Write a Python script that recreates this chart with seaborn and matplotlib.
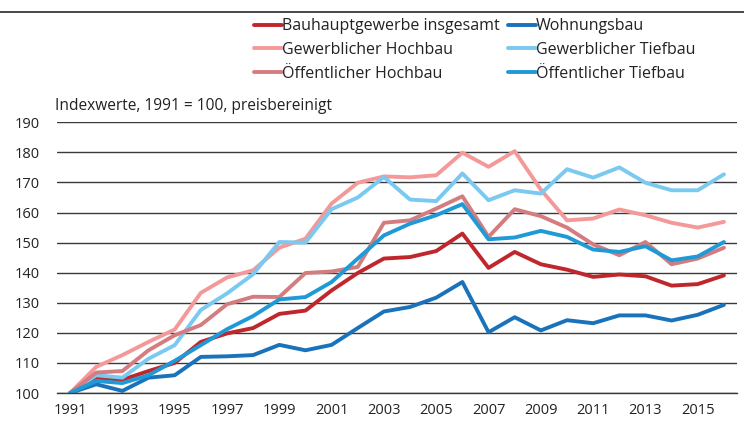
import numpy as np
import pandas as pd
import seaborn as sns
import matplotlib.pyplot as plt
from matplotlib.lines import Line2D

# --- data (index 1991 = 100) ---
years = list(range(1991, 2017))

bauhaupt = [100, 105.1, 104.4, 107.3, 110.0, 117.0, 119.8, 121.6, 126.3, 127.4,
            134.1, 139.9, 144.7, 145.2, 147.2, 153.0, 141.6, 146.9, 142.8, 141.0,
            138.6, 139.4, 138.8, 135.7, 136.2, 139.1]
wohnungsbau = [100, 102.9, 100.7, 105.1, 105.9, 112.0, 112.2, 112.6, 116.0, 114.2,
               116.0, 121.6, 127.1, 128.6, 131.7, 136.9, 120.2, 125.2, 120.8, 124.2,
               123.2, 125.8, 125.8, 124.1, 126.0, 129.3]
gew_hochbau = [100, 108.7, 112.6, 117.0, 121.1, 133.3, 138.4, 140.8, 148.3, 151.3,
               163.0, 169.9, 172.0, 171.7, 172.4, 179.9, 175.2, 180.4, 167.6, 157.4,
               158.0, 161.0, 159.1, 156.6, 155.0, 156.9]
gew_tiefbau = [100, 105.9, 105.1, 111.4, 115.9, 127.6, 133.1, 139.5, 150.2, 150.0,
               161.1, 165.0, 171.8, 164.3, 163.8, 173.0, 164.1, 167.4, 166.3, 174.4,
               171.6, 175.0, 169.9, 167.4, 167.4, 172.7]
oef_hochbau = [100, 106.8, 107.3, 114.2, 119.2, 122.6, 129.5, 132.0, 131.9, 139.9,
               140.4, 141.9, 156.6, 157.4, 161.3, 165.4, 151.9, 161.1, 158.8, 155.0,
               149.4, 145.8, 150.2, 142.8, 144.7, 148.3]
oef_tiefbau = [100, 104.0, 103.3, 105.9, 110.7, 115.9, 121.2, 125.6, 131.1, 131.9,
               136.9, 144.7, 152.4, 156.3, 159.1, 162.8, 151.1, 151.7, 153.9, 151.9,
               147.7, 146.9, 148.8, 144.1, 145.4, 150.2]

names = ["Bauhauptgewerbe insgesamt", "Wohnungsbau", "Gewerblicher Hochbau",
         "Gewerblicher Tiefbau", "Öffentlicher Hochbau", "Öffentlicher Tiefbau"]
colors = ["#c0272d", "#1a72bb", "#f4999a", "#79c9f0", "#d47c7f", "#1f9ad6"]
series = [bauhaupt, wohnungsbau, gew_hochbau, gew_tiefbau, oef_hochbau, oef_tiefbau]

ylabel_text = "Indexwerte, 1991 = 100, preisbereinigt"

# long format for seaborn, x as category position
rows = []
for name, vals in zip(names, series):
    for i, v in enumerate(vals):
        rows.append({"pos": i, "Jahr": years[i], "Reihe": name, "Wert": v})
df = pd.DataFrame(rows)

sns.set_style("white")
plt.rcParams["font.family"] = ["Open Sans", "DejaVu Sans"]
plt.rcParams["font.size"] = 11

fig = plt.figure(figsize=(7.44, 4.23), dpi=100)
ax = fig.add_axes([57 / 744, 1 - 393 / 423, 680 / 744, (393 - 122.3) / 423])

sns.lineplot(data=df, x="pos", y="Wert", hue="Reihe", hue_order=names,
             palette=colors, linewidth=2.8, ax=ax, legend=False)

ax.set_xlim(-0.5, len(years) - 0.5)
ax.set_ylim(100, 190)
ax.set_yticks(np.arange(100, 191, 10))
ax.yaxis.grid(True, color="#3a3a3a", linewidth=1.0)
ax.set_axisbelow(True)

# category axis: ticks on boundaries, labels for every second year
ax.set_xticks(np.arange(-0.5, len(years), 1.0))
ax.set_xticklabels([])
ax.set_xticks(np.arange(0, len(years), 2), minor=True)
ax.set_xticklabels([str(y) for y in years[::2]], minor=True)
ax.tick_params(axis="x", which="major", length=5, width=1, color="#3a3a3a",
               direction="out")
ax.tick_params(axis="x", which="minor", length=0, pad=7, labelsize=10.5,
               labelcolor="#222222")
ax.tick_params(axis="y", length=0, pad=12.5, labelsize=10.5, labelcolor="#222222")

for s in ["top", "right", "left"]:
    ax.spines[s].set_visible(False)
ax.spines["bottom"].set_color("#3a3a3a")
ax.spines["bottom"].set_linewidth(1.0)
ax.set_xlabel("")
ax.set_ylabel("")

fig.text(55 / 744, 1 - 106 / 423, ylabel_text, ha="left", va="center",
         fontsize=11.2, color="#222222")

# legend, two columns like the original
order = [0, 2, 4, 1, 3, 5]
handles = [Line2D([], [], color=colors[i], linewidth=2.8) for i in order]
labels = [names[i] for i in order]
fig.legend(handles, labels, ncol=2, loc="center left",
           bbox_to_anchor=(254 / 744, 1 - 50 / 423), frameon=False,
           handlelength=1.75, handletextpad=0.0, columnspacing=0.5,
           labelspacing=0.48, borderpad=0, borderaxespad=0, fontsize=11.5,
           labelcolor="#222222")

# thin rule along the top
fig.add_artist(Line2D([0, 1], [1 - 12 / 423] * 2, color="#3a3a3a",
                      linewidth=1.3, transform=fig.transFigure))

fig.savefig("out.png", dpi=100)
